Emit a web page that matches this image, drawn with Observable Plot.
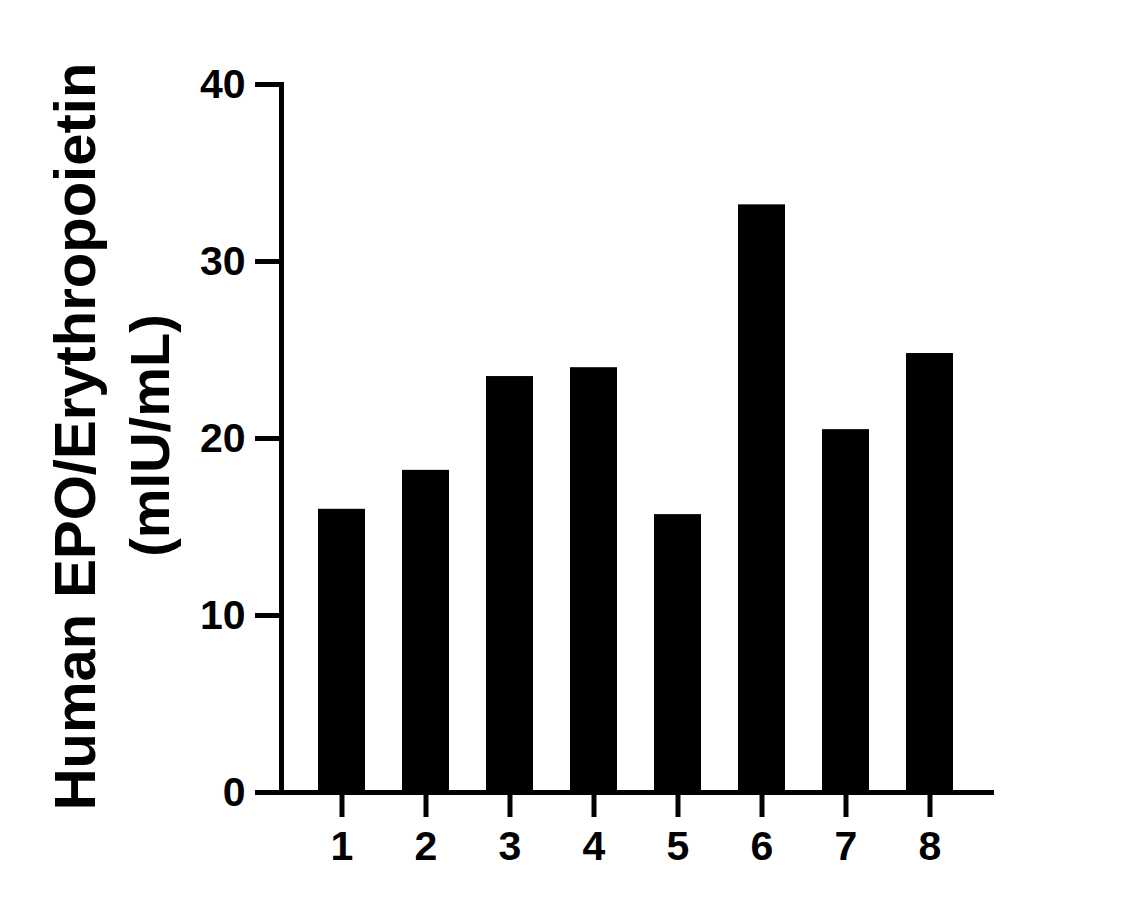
<!DOCTYPE html>
<html><head><meta charset="utf-8">
<script src="https://cdn.jsdelivr.net/npm/d3@7"></script>
<script src="https://cdn.jsdelivr.net/npm/@observablehq/plot@0.6"></script>
<style>body{margin:0;background:#fff;} svg{display:block}</style>
</head><body><div id="chart"></div>
<script>
const samples = ["1","2","3","4","5","6","7","8"];
const values = [16.0, 18.2, 23.5, 24.0, 15.7, 33.2, 20.5, 24.8];
const yTicks = [0, 10, 20, 30, 40];
const yTitle1 = "Human EPO/Erythropoietin";
const yTitle2 = "(mIU/mL)";
const data = samples.map((s, i) => ({sample: s, value: values[i]}));
const font = "'Liberation Sans', Arial, sans-serif";
const chart = Plot.plot({
  width: 1127, height: 908,
  marginLeft: 281, marginRight: 136, marginTop: 84, marginBottom: 116,
  style: {fontFamily: font, background: "#fff", color: "#000"},
  x: {domain: samples, padding: 0.44, label: null},
  y: {domain: [0, 40], label: null},
  marks: [
    Plot.barY(data, {x: "sample", y: "value", fill: "#000"}),
    Plot.frame({anchor: "left", strokeWidth: 5}),
    Plot.frame({anchor: "bottom", strokeWidth: 5}),
    Plot.axisY({ticks: yTicks, tickSize: 26, tickPadding: 10, strokeWidth: 5, fontSize: 41, fontWeight: "bold", label: null}),
    Plot.axisX({tickSize: 25, tickPadding: 13, strokeWidth: 5, fontSize: 41, fontWeight: "bold", label: null}),
    Plot.text([yTitle1], {text: d => d, frameAnchor: "left", rotate: -90, dx: -187, dy: -2, lineAnchor: "bottom", textAnchor: "middle", fontSize: 58, fontWeight: "bold", fill: "#000"}),
    Plot.text([yTitle2], {text: d => d, frameAnchor: "left", rotate: -90, dx: -113, dy: -3, lineAnchor: "bottom", textAnchor: "middle", fontSize: 56, fontWeight: "bold", fill: "#000"})
  ]
});
document.getElementById("chart").appendChild(chart);
</script>
</body></html>
